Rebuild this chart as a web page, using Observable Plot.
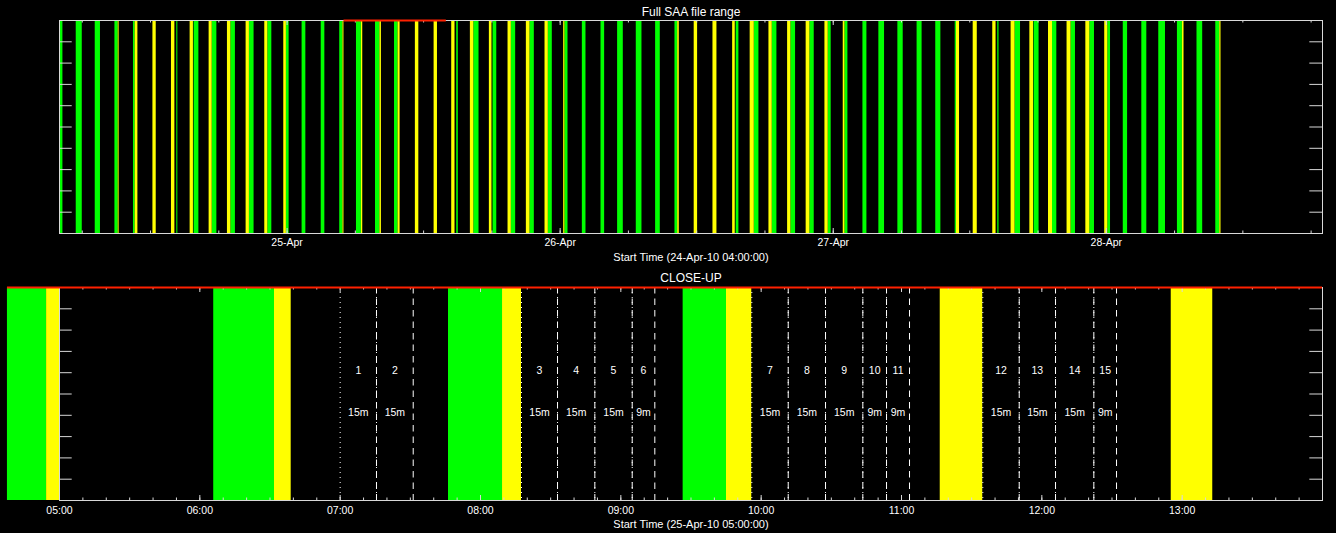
<!DOCTYPE html>
<html><head><meta charset="utf-8">
<script src="https://cdn.jsdelivr.net/npm/d3@7"></script>
<script src="https://cdn.jsdelivr.net/npm/@observablehq/plot@0.6"></script>
<style>html,body{margin:0;padding:0;background:#000;overflow:hidden;} #chart svg{display:block;}</style>
</head><body><div id="chart"></div>
<script>
// ---------- DATA ----------
const fullStart = "2010-04-24T04:00:00Z";
const fullEnd = "2010-04-28T19:00:00Z";
const closeStart = "2010-04-25T05:00:00Z";
const closeEnd = "2010-04-25T14:00:00Z";
const closeDay = "2010-04-25";

// SAA pass intervals, hours since 24-Apr-10 04:00:00
const greenPasses = [[0.00,0.30],[1.47,2.00],[3.14,3.60],[4.87,5.16],[6.50,6.65],[10.31,10.40],[11.83,12.25],[13.42,13.83],[15.06,15.46],[16.69,17.10],[18.31,18.66],[19.94,20.18],[21.32,21.65],[23.00,23.32],[24.629,24.908],[26.099,26.532],[27.772,28.157],[29.444,29.753],[34.91,35.05],[36.41,36.87],[38.10,38.43],[39.71,40.09],[41.35,41.73],[42.96,43.31],[44.42,44.69],[45.95,46.27],[47.59,47.91],[49.05,49.55],[50.69,51.19],[52.39,52.80],[54.09,54.33],[59.47,59.71],[61.06,61.47],[62.64,63.05],[64.28,64.69],[65.95,66.33],[67.56,67.82],[69.03,69.29],[70.61,70.96],[72.01,72.51],[73.68,74.15],[75.37,75.81],[77.01,77.46],[78.72,78.83],[82.46,82.57],[83.98,84.46],[85.65,86.09],[87.27,87.65],[88.90,89.29],[90.55,90.96],[92.13,92.37],[93.49,93.87],[95.12,95.56],[96.61,97.20],[98.25,98.69],[99.97,100.47],[101.62,101.97]];
const yellowPasses = [[5.16,5.24],[6.65,6.89],[8.21,8.50],[9.84,10.14],[11.48,11.77],[13.15,13.42],[14.76,15.06],[16.40,16.69],[18.04,18.31],[19.71,19.94],[24.908,25.0],[26.532,26.651],[28.157,28.292],[29.753,29.933],[31.276,31.579],[32.922,33.218],[34.47,34.76],[36.11,36.41],[37.78,38.01],[39.42,39.71],[41.03,41.35],[42.67,42.96],[44.31,44.42],[54.33,54.47],[55.78,56.08],[57.43,57.78],[59.16,59.39],[60.70,61.06],[62.35,62.64],[63.99,64.28],[65.62,65.95],[67.27,67.56],[68.88,69.03],[78.83,79.10],[80.30,80.66],[82.02,82.31],[83.63,83.98],[85.28,85.60],[86.92,87.27],[88.55,88.90],[90.20,90.55],[91.86,92.13],[98.69,98.83],[101.97,102.08]];

// observation segments in the close-up (25-Apr-10)
const segNumber = ["1","2","3","4","5","6","7","8","9","10","11","12","13","14","15"];
const segLength = ["15m","15m","15m","15m","15m","9m","15m","15m","15m","9m","9m","15m","15m","15m","9m"];
const segStart = ["07:00:00","07:15:32","08:17:32","08:32:56","08:48:53","09:04:52","09:56:00","10:11:34","10:27:31","10:43:28","10:53:36","11:34:46","11:50:20","12:05:51","12:22:14"];
const segEnd   = ["07:15:32","07:31:14","08:32:56","08:48:53","09:04:52","09:14:32","10:11:34","10:27:31","10:43:28","10:53:36","11:03:26","11:50:20","12:05:51","12:22:14","12:31:56"];

// red range markers (25-Apr-10)
const redFull = ["05:00:00","14:00:00"];
const redClose = ["04:37:46","14:00:00"];

const fullTitle = "Full SAA file range";
const closeTitle = "CLOSE-UP";
const fullXLabel = "Start Time (24-Apr-10 04:00:00)";
const closeXLabel = "Start Time (25-Apr-10 05:00:00)";

// ---------- BUILD ----------
const W = 1336, ML = 59, MR = 14;
const GREEN = "#00ff00", YELLOW = "#ffff00", RED = "#ff2000", AXIS = "#d8d8d8";
const FONT = "'Liberation Sans', Arial, sans-serif";

const t0 = new Date(fullStart);
const hr = h => new Date(+t0 + h * 3600e3);
const onDay = s => new Date(`${closeDay}T${s}Z`);
const greens = greenPasses.map(([a, b]) => ({a: hr(a), b: hr(b)}));
const yellows = yellowPasses.map(([a, b]) => ({a: hr(a), b: hr(b)}));
const segs = segNumber.map((n, i) => ({n, len: segLength[i], a: onDay(segStart[i]), b: onDay(segEnd[i])}));

function panel({x0, x1, height, marginTop, marginBottom, g, y, red, title, titleDy, xlabel, labelTicks, majorTicks, minorTicks, tickFormat, tickPadding, extra = []}) {
  const plotW = W - ML - MR, plotH = height - marginTop - marginBottom;
  const span = x1 - x0;
  const dx = px => px * span / plotW;
  const dy = px => px / plotH;
  const yTicks = d3.range(1, 10).map(i => i / 10);
  const xl = new Date(+x0 + dx(12.7)), xr = new Date(+x1 - dx(12.7));
  return Plot.plot({
    width: W, height, marginTop, marginBottom, marginLeft: ML, marginRight: MR,
    x: {type: "utc", domain: [x0, x1]},
    y: {domain: [0, 1], axis: null},
    style: {background: "black", color: "white", fontFamily: FONT, fontSize: "10.5px", overflow: "visible"},
    marks: [
      Plot.rect(g, {x1: "a", x2: "b", y1: 0, y2: 1, fill: GREEN}),
      Plot.rect(y, {x1: "a", x2: "b", y1: 0, y2: 1, fill: YELLOW}),
      ...extra,
      Plot.frame({stroke: AXIS}),
      Plot.ruleY(yTicks, {x1: () => x0, x2: () => xl, stroke: AXIS}),
      Plot.ruleY(yTicks, {x1: () => xr, x2: () => x1, stroke: AXIS}),
      Plot.ruleX(majorTicks, {y1: 0, y2: dy(5), stroke: AXIS}),
      Plot.ruleX(majorTicks, {y1: 1 - dy(5), y2: 1, stroke: AXIS}),
      Plot.ruleX(minorTicks, {y1: 0, y2: dy(2.5), stroke: AXIS}),
      Plot.ruleX(minorTicks, {y1: 1 - dy(2.5), y2: 1, stroke: AXIS}),
      Plot.ruleY([1], {x1: () => onDay(red[0]), x2: () => onDay(red[1]), stroke: RED, strokeWidth: 2}),
      Plot.axisX({ticks: labelTicks, tickFormat, tickSize: 0, tickPadding, label: null}),
      Plot.text([title], {frameAnchor: "top", lineAnchor: "middle", dy: titleDy, text: d => d, fill: "white", fontSize: 12}),
      Plot.text([xlabel], {frameAnchor: "bottom", lineAnchor: "middle", dy: 23.5, text: d => d, fill: "white", fontSize: 11})
    ]
  });
}

// top panel
const fx0 = new Date(fullStart), fx1 = new Date(fullEnd);
const fullPanel = panel({
  x0: fx0, x1: fx1, height: 266, marginTop: 20, marginBottom: 33,
  g: greens, y: yellows, red: redFull, title: fullTitle, titleDy: -8, xlabel: fullXLabel,
  labelTicks: d3.utcDay.range(fx0, fx1),
  majorTicks: d3.utcDay.range(fx0, fx1),
  minorTicks: d3.utcHour.every(6).range(fx0, fx1),
  tickFormat: d3.utcFormat("%d-%b"), tickPadding: 5.5
});

// close-up panel
const cx0 = new Date(closeStart), cx1 = new Date(closeEnd);
const inView = d => +d.b > +cx0 - 3600e3 && +d.a < +cx1;
const closePanel = panel({
  x0: cx0, x1: cx1, height: 267, marginTop: 21, marginBottom: 33,
  g: greens.filter(inView), y: yellows.filter(inView), red: redClose, title: closeTitle, titleDy: -9, xlabel: closeXLabel,
  labelTicks: d3.utcHour.range(cx0, cx1),
  majorTicks: d3.utcHour.range(cx0, new Date(+cx1 + 1)),
  minorTicks: d3.utcMinute.every(10).range(cx0, cx1),
  tickFormat: d3.utcFormat("%H:%M"), tickPadding: 6,
  extra: [
    Plot.ruleX(segs, {x: "a", stroke: "white", strokeDasharray: "1,4"}),
    Plot.ruleX(segs, {x: "b", stroke: "white", strokeDasharray: "6.5,5"}),
    Plot.text(segs, {x: d => new Date((+d.a + +d.b) / 2), y: 0.609, text: "n", fill: "white", fontSize: 10.5}),
    Plot.text(segs, {x: d => new Date((+d.a + +d.b) / 2), y: 0.413, text: "len", fill: "white", fontSize: 10.5})
  ]
});

const chart = document.getElementById("chart");
chart.appendChild(fullPanel);
chart.appendChild(closePanel);
</script>
</body></html>
